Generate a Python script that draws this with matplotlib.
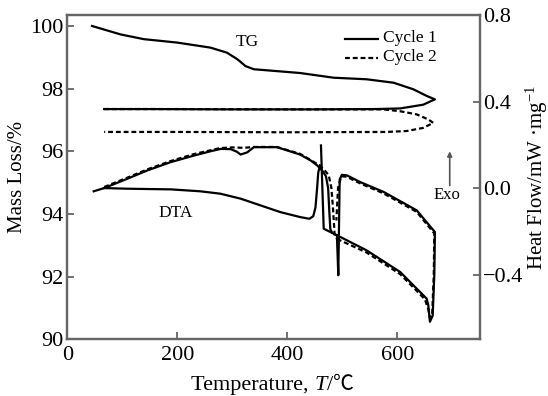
import matplotlib
matplotlib.use("Agg")
import matplotlib.pyplot as plt
from matplotlib.offsetbox import TextArea, HPacker, AnchoredOffsetbox

plt.rcParams['font.family'] = ['Liberation Serif', 'DejaVu Serif', 'DejaVu Sans']
plt.rcParams['mathtext.fontset'] = 'custom'
plt.rcParams['mathtext.rm'] = 'Liberation Serif'
plt.rcParams['mathtext.it'] = 'Liberation Serif:italic'

# ---------------- data ----------------
# TG (left axis, Mass Loss / %)
tg1_T = [45, 97, 139, 200, 260, 290, 309, 324, 339, 381, 423, 484, 544, 593, 629, 653, 668,
         647, 605, 560, 450, 300, 150, 67]
tg1_v = [100.0, 99.73, 99.58, 99.47, 99.31, 99.15, 98.94, 98.72, 98.62, 98.56, 98.50, 98.35, 98.30,
         98.19, 97.98, 97.77, 97.66, 97.49, 97.37, 97.35, 97.34, 97.34, 97.35, 97.35]
tg2_T = [67, 200, 400, 575, 605, 635, 656, 665, 647, 617, 580, 400, 200, 67]
tg2_v = [97.35, 97.35, 97.34, 97.34, 97.28, 97.18, 97.02, 96.91, 96.75, 96.65, 96.62, 96.61, 96.62, 96.62]

# DTA (right axis, Heat Flow / mW mg^-1) -- cycle 1
dta1a_T = [48, 67, 109, 188, 242, 278, 315, 351, 387, 423, 440, 447, 451, 454, 456, 459]
dta1a_v = [-0.015, 0.0, -0.003, -0.006, -0.015, -0.026, -0.049, -0.080, -0.111, -0.134, -0.142,
           -0.13, -0.09, 0.0, 0.07, 0.105]
dta1b_T = [67, 109, 146, 188, 230, 260, 279, 297, 308, 315, 327, 339, 381, 423, 442, 454, 463,
           470, 474, 476, 478, 481]
dta1b_v = [0.0, 0.043, 0.082, 0.120, 0.150, 0.170, 0.181, 0.180, 0.168, 0.155, 0.165, 0.189, 0.189,
           0.155, 0.128, 0.105, 0.082, 0.055, 0.0, -0.10, -0.19, -0.205]
dta1c_T = [461, 466, 490, 544, 605, 635, 653, 656, 659, 664, 667, 668, 635, 575, 532, 508, 499,
           495, 492.5, 490]
dta1c_v = [0.197, -0.188, -0.218, -0.288, -0.388, -0.465, -0.511, -0.54, -0.618, -0.59, -0.40,
           -0.203, -0.103, -0.018, 0.028, 0.059, 0.061, 0.04, -0.403, -0.22]
# cycle 2
dta2b_T = [67, 109, 146, 188, 230, 278, 300, 320, 340, 381, 423, 442, 455, 465, 475, 480, 483,
           486, 490]
dta2b_v = [0.005, 0.048, 0.087, 0.125, 0.157, 0.185, 0.188, 0.186, 0.190, 0.190, 0.158, 0.130,
           0.110, 0.090, 0.060, 0.0, -0.10, -0.22, -0.235]
dta2c_T = [490, 544, 605, 635, 650, 656, 659, 663, 666, 667, 635, 575, 532, 508, 498, 492, 489]
dta2c_v = [-0.235, -0.298, -0.398, -0.475, -0.515, -0.56, -0.60, -0.59, -0.40, -0.21, -0.11,
           -0.025, 0.022, 0.052, 0.055, 0.0, -0.15]

xticks = [0, 200, 400, 600]
yticks_left = [90, 92, 94, 96, 98, 100]
yticks_right = [-0.4, 0.0, 0.4, 0.8]
yticklabels_right = ['\u22120.4', '0.0', '0.4', '0.8']

# ---------------- figure ----------------
fig = plt.figure(figsize=(5.48, 3.96), dpi=100)
ax = fig.add_axes([0.1228, 0.1427, 0.7531, 0.8194])
ax2 = ax.twinx()

spine_c = '#666666'
lw = 1.6
dash = (0, (2.2, 1.3))

ax.plot(tg1_T, tg1_v, color='black', lw=lw)
ax.plot(tg2_T, tg2_v, color='black', lw=lw, linestyle=dash)

ax2.plot(dta2b_T, dta2b_v, color='black', lw=lw, linestyle=dash)
ax2.plot(dta2c_T, dta2c_v, color='black', lw=lw, linestyle=dash)
ax2.plot(dta1a_T, dta1a_v, color='black', lw=lw)
ax2.plot(dta1b_T, dta1b_v, color='black', lw=lw)
ax2.plot(dta1c_T, dta1c_v, color='black', lw=lw)

ax.set_xlim(0, 750)
ax.set_ylim(90, 100.35)
ax2.set_ylim(-0.70, 0.80)

ax.set_xticks(xticks)
ax.set_yticks(yticks_left)
ax2.set_yticks(yticks_right)
ax2.set_yticklabels(yticklabels_right)

for a in (ax, ax2):
    for s in a.spines.values():
        s.set_color(spine_c)
        s.set_linewidth(1.6)
    a.tick_params(direction='in', length=5, width=1.3, color=spine_c,
                  labelsize=16, pad=3)
ax.tick_params(axis='x', pad=5)
ax2.tick_params(axis='y', pad=2)

# x label built from pieces (italic T, Celsius sign from a fallback font)
parts = [
    TextArea('Temperature, ', textprops=dict(fontsize=16, family=['Liberation Serif'])),
    TextArea('T', textprops=dict(fontsize=16, style='italic', family=['Liberation Serif'])),
    TextArea('/', textprops=dict(fontsize=16, family=['Liberation Serif'])),
    TextArea('\u2103', textprops=dict(fontsize=15, fontweight='light',
                                      family=['Noto Sans CJK SC', 'DejaVu Sans'])),
]
xl_box = HPacker(children=parts, align='baseline', pad=0, sep=0)
xl = AnchoredOffsetbox(loc='center', child=xl_box, pad=0, frameon=False,
                       bbox_to_anchor=(0.497, 0.03), bbox_transform=fig.transFigure,
                       borderpad=0)
fig.add_artist(xl)

ax.set_ylabel('Mass Loss/%', fontsize=15, labelpad=2)
ax2.set_ylabel('Heat Flow/mW \u00b7mg$^{-1}$', fontsize=15)
ax2.yaxis.set_label_coords(1.105, 0.5)

# annotations
ax.text(327, 99.5, 'TG', fontsize=12.5, ha='center', va='center')
ax.text(197, 94.05, 'DTA', fontsize=12.5, ha='center', va='center')
ax2.text(690, -0.034, 'Exo', fontsize=12, ha='center', va='center')
ax2.annotate('', xy=(695, 0.17), xytext=(695, 0.012),
             arrowprops=dict(arrowstyle='-|>', color='#555555', lw=1.2,
                             mutation_scale=7, shrinkA=0, shrinkB=0))

# legend
ax.plot([505, 565], [99.6, 99.6], color='black', lw=lw)
ax.plot([505, 565], [98.99, 98.99], color='black', lw=lw, linestyle=dash)
ax.text(574, 99.62, 'Cycle 1', fontsize=12.5, ha='left', va='center')
ax.text(574, 99.01, 'Cycle 2', fontsize=12.5, ha='left', va='center')

fig.savefig('out.png', dpi=100)
